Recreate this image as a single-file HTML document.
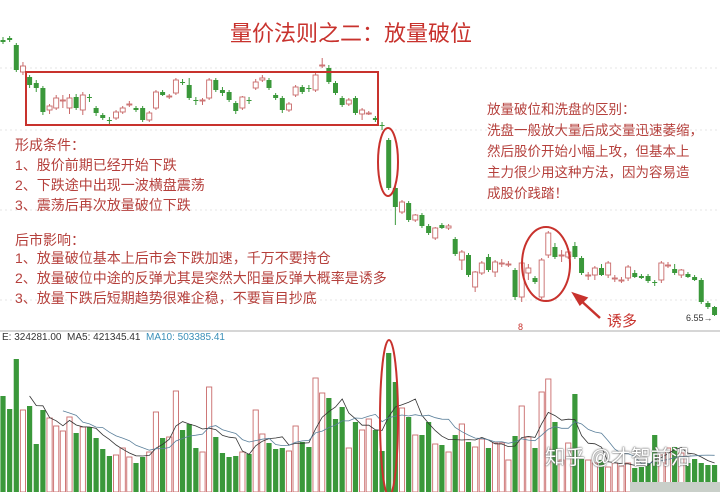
<!DOCTYPE html>
<html><head><meta charset="utf-8">
<style>
html,body{margin:0;padding:0;background:#fff;}
#wrap{position:relative;width:720px;height:492px;overflow:hidden;background:#fff;font-family:"Liberation Sans","Noto Sans CJK SC",sans-serif;}
.t{position:absolute;color:#b5403c;font-size:14px;line-height:16px;white-space:nowrap;font-family:"Liberation Sans","Noto Sans CJK SC",sans-serif;}
svg{position:absolute;left:0;top:0;}
</style></head>
<body>
<div id="wrap">
<svg id="chart" width="720" height="492"></svg>
<div class="t" style="left:230px;top:21px;font-size:22px;line-height:26px;color:#c8322d;">量价法则之二：放量破位</div>
<div class="t" style="left:15px;top:137px;">形成条件：</div>
<div class="t" style="left:15px;top:157px;">1、股价前期已经开始下跌</div>
<div class="t" style="left:15px;top:177px;">2、下跌途中出现一波横盘震荡</div>
<div class="t" style="left:15px;top:197px;">3、震荡后再次放量破位下跌</div>
<div class="t" style="left:15px;top:232px;">后市影响：</div>
<div class="t" style="left:15px;top:250px;">1、放量破位基本上后市会下跌加速，千万不要持仓</div>
<div class="t" style="left:15px;top:270px;">2、放量破位中途的反弹尤其是突然大阳量反弹大概率是诱多</div>
<div class="t" style="left:15px;top:290px;">3、放量下跌后短期趋势很难企稳，不要盲目抄底</div>
<div class="t" style="left:487px;top:102px;font-size:13.5px;">放量破位和洗盘的区别：</div>
<div class="t" style="left:487px;top:123px;font-size:13.5px;">洗盘一般放大量后成交量迅速萎缩，</div>
<div class="t" style="left:487px;top:144px;font-size:13.5px;">然后股价开始小幅上攻，但基本上</div>
<div class="t" style="left:487px;top:165px;font-size:13.5px;">主力很少用这种方法，因为容易造</div>
<div class="t" style="left:487px;top:186px;font-size:13.5px;">成股价践踏！</div>
<div class="t" style="left:607px;top:314px;font-size:15px;color:#c8322d;">诱多</div>
<div class="t" style="left:2px;top:332px;font-size:10px;line-height:12px;color:#333;">E: 324281.00 &nbsp;MA5: 421345.41 &nbsp;<span style="color:#3a8fb8">MA10: 503385.41</span></div>
<div class="t" style="left:518px;top:322px;font-size:9px;line-height:10px;color:#c8322d;">8</div>
<div class="t" style="left:686px;top:313px;font-size:9px;line-height:10px;color:#333;">6.55→</div>
<div class="t" style="left:545px;top:446px;font-size:20px;line-height:24px;color:#fff;text-shadow:0 0 2px #666,0 0 1px #444;">知乎 @才智前沿</div>
</div>
<script>
const candles=[
[9.30,9.33,9.26,9.28],[9.32,9.34,9.28,9.30],[9.25,9.27,8.98,9.00],[8.98,9.08,8.95,9.04],[8.93,8.95,8.82,8.85],
[8.87,8.90,8.78,8.82],[8.82,8.84,8.55,8.58],[8.60,8.66,8.56,8.64],[8.62,8.75,8.60,8.72],[8.70,8.75,8.62,8.70],
[8.62,8.76,8.56,8.72],[8.73,8.76,8.60,8.62],[8.60,8.78,8.55,8.75],[8.73,8.76,8.68,8.72],[8.62,8.64,8.54,8.57],
[8.55,8.57,8.50,8.52],[8.50,8.53,8.46,8.49],[8.52,8.60,8.50,8.58],[8.58,8.64,8.56,8.62],[8.66,8.69,8.63,8.66],
[8.62,8.64,8.58,8.60],[8.62,8.64,8.48,8.50],[8.50,8.59,8.48,8.57],[8.62,8.80,8.60,8.78],[8.78,8.80,8.74,8.75],
[8.73,8.76,8.71,8.74],[8.77,8.92,8.75,8.90],[8.88,8.91,8.85,8.87],[8.85,8.92,8.70,8.72],[8.70,8.73,8.65,8.69],
[8.69,8.72,8.65,8.70],[8.72,8.92,8.70,8.90],[8.90,8.92,8.78,8.80],[8.80,8.83,8.74,8.77],[8.78,8.80,8.68,8.70],
[8.67,8.69,8.56,8.59],[8.62,8.74,8.60,8.73],[8.70,8.73,8.66,8.69],[8.82,8.91,8.80,8.88],[8.90,8.95,8.88,8.92],
[8.90,8.92,8.80,8.82],[8.75,8.77,8.70,8.72],[8.72,8.74,8.57,8.60],[8.60,8.68,8.58,8.66],[8.75,8.85,8.73,8.83],
[8.83,8.85,8.76,8.78],[8.82,8.85,8.78,8.81],[8.80,8.97,8.78,8.95],[9.04,9.12,9.02,9.05],[9.02,9.05,8.86,8.88],
[8.87,8.89,8.75,8.77],[8.72,8.74,8.63,8.65],[8.66,8.72,8.64,8.70],[8.72,8.74,8.55,8.57],[8.56,8.62,8.50,8.60],
[8.57,8.59,8.55,8.57],[8.52,8.54,8.48,8.50],[8.45,8.48,8.40,8.44],[8.30,8.32,7.80,7.82],[7.82,7.84,7.45,7.63],
[7.58,7.70,7.56,7.68],[7.67,7.69,7.48,7.50],[7.50,7.56,7.48,7.55],[7.55,7.57,7.42,7.44],[7.44,7.46,7.35,7.37],
[7.32,7.43,7.30,7.42],[7.45,7.47,7.41,7.42],[7.42,7.46,7.40,7.44],[7.31,7.33,7.14,7.16],[7.10,7.20,7.00,7.18],
[7.15,7.17,6.93,6.95],[6.83,6.99,6.78,6.98],[6.97,7.09,6.95,7.07],[7.13,7.16,6.98,7.00],[6.98,7.10,6.93,7.08],
[7.07,7.11,7.03,7.07],[7.06,7.09,7.03,7.06],[7.00,7.02,6.70,6.73],[6.73,7.09,6.68,7.07],[6.97,7.06,6.90,7.02],
[6.92,6.94,6.86,6.88],[6.73,7.12,6.71,7.10],[7.15,7.39,7.12,7.37],[7.23,7.27,7.11,7.13],[7.15,7.20,7.08,7.15],
[7.13,7.22,7.11,7.18],[7.24,7.28,7.11,7.13],[7.12,7.14,6.95,6.97],[6.95,6.98,6.90,6.95],[6.95,7.04,6.90,7.02],
[7.02,7.06,6.94,6.95],[6.95,7.09,6.92,7.07],[6.92,6.95,6.88,6.92],[6.90,6.93,6.87,6.90],[6.92,7.05,6.89,7.03],
[6.97,7.00,6.92,6.93],[6.94,6.96,6.91,6.92],[6.94,6.96,6.87,6.89],[6.88,6.90,6.84,6.87],[6.90,7.09,6.87,7.07],
[7.05,7.08,7.02,7.05],[7.01,7.06,6.95,6.97],[6.95,7.01,6.92,7.00],[6.96,6.98,6.92,6.93],[6.93,6.95,6.89,6.90],
[6.90,6.92,6.66,6.68],[6.67,6.69,6.61,6.63],[6.63,6.64,6.54,6.55]];
const volumes=[384,332,532,328,344,192,328,296,264,244,300,236,260,260,216,172,144,148,176,140,116,140,160,320,216,220,404,248,272,176,160,420,220,156,140,144,160,152,328,232,196,172,176,164,264,200,180,456,396,376,292,340,176,280,248,292,248,164,556,440,336,300,228,228,280,192,188,160,228,272,200,180,212,176,196,196,128,224,344,220,176,400,452,280,128,196,392,132,128,116,128,100,116,104,116,96,100,116,228,148,176,180,156,116,132,116,108,108];
const upColorEdge="#c96a6a", downColor="#3a983a";
const svg=document.getElementById('chart');
const NS="http://www.w3.org/2000/svg";
const N=candles.length;
function xPos(i){return 3+i*6.65;}
function yPrice(p){return (9.70-p)*100;}
function yVol(v){return 492-v/4;}
function mk(tag,attrs){const e=document.createElementNS(NS,tag);for(const k in attrs)e.setAttribute(k,attrs[k]);svg.appendChild(e);return e;}
[68,130,210,300].forEach(function(y){
 const g=mk('line',{x1:0,x2:720,y1:y,y2:y,stroke:'#e4e4e4','stroke-width':1,'stroke-dasharray':'2,3'});
 
 
});
const sep=mk('line',{x1:0,x2:720,y1:331,y2:331,stroke:'#c8c8c8','stroke-width':1.5});


for(let i=0;i<N;i++){
 const c=candles[i],o=c[0],h=c[1],l=c[2],cl=c[3];
 const x=xPos(i),up=cl>=o;
 const col=up?upColorEdge:downColor;
 const w=mk('line',{x1:x,x2:x,y1:yPrice(h),y2:yPrice(l),stroke:col,'stroke-width':1});
 
 
 const top=yPrice(Math.max(o,cl)),bh=Math.max(1,Math.abs(yPrice(o)-yPrice(cl)));
 const b=mk('rect',{x:x-2.5,y:top,width:5,height:bh,fill:up?'#fff':downColor,stroke:col,'stroke-width':up?0.9:0});
 
 
}
for(let i=0;i<volumes.length;i++){
 const x=xPos(i),c=candles[i],up=c[3]>=c[0],y=yVol(volumes[i]);
 const r=mk('rect',{x:x-2.6,y:y,width:5.2,height:492-y,fill:up?'#fff':downColor,stroke:up?upColorEdge:'none','stroke-width':0.9});
 
 
}
function ma(n){const out=[];for(let i=0;i<volumes.length;i++){if(i<n-1){out.push(null);continue;}let s=0;for(let j=i-n+1;j<=i;j++)s+=volumes[j];out.push(s/n);}return out;}
[[ma(5),'#333','volume-ma5-line'],[ma(10),'#5a7f9a','volume-ma10-line']].forEach(function(d){
 let p='';d[0].forEach(function(v,i){if(v===null)return;p+=(p?'L':'M')+xPos(i).toFixed(1)+','+yVol(v).toFixed(1);});
 const pl=mk('path',{d:p,fill:'none',stroke:d[1],'stroke-width':0.8});
 
 
});
const box=mk('rect',{x:26,y:72,width:352,height:53,fill:'none',stroke:'#c8322d','stroke-width':2});


const e1=mk('ellipse',{cx:388,cy:162,rx:10,ry:34,fill:'none',stroke:'#c8322d','stroke-width':2});


const e2=mk('ellipse',{cx:546,cy:264,rx:24,ry:37,fill:'none',stroke:'#c8322d','stroke-width':2});


const e3=mk('ellipse',{cx:389,cy:418,rx:9,ry:78,fill:'none',stroke:'#c8322d','stroke-width':2});


const ar=mk('path',{d:'M600,318 L578,298 M574,294 L586,298 L580,304 Z',fill:'#c8322d',stroke:'#c8322d','stroke-width':2.5});


const blur=mk('rect',{x:630,y:482,width:90,height:10,fill:'#c9cfc9'});


</script>
</body></html>
